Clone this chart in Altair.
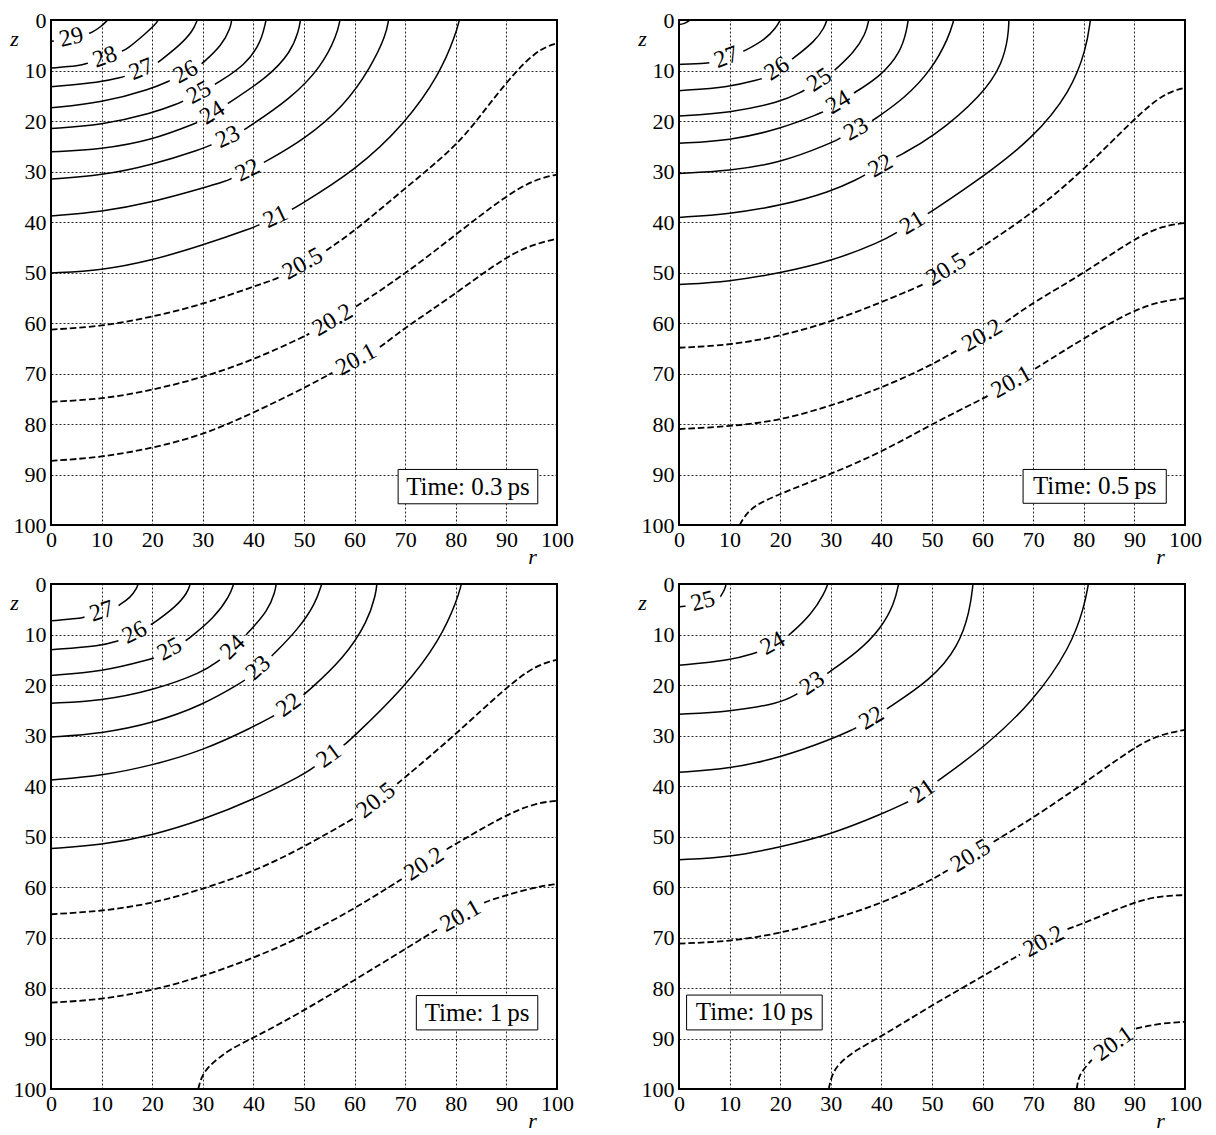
import math
import altair as alt
import pandas as pd

# ---------------- data ----------------
TICKS = [0, 10, 20, 30, 40, 50, 60, 70, 80, 90, 100]

# Panel 1 : 0.3 ps
LEVELS_03 = [29, 28, 27, 26, 25, 24, 23, 22, 21, 20.5, 20.2, 20.1]
R_03 = [
    [0, 1.2, 8, 9.8, 11, 11.2],
    [0, 5.7, 15, 18.9, 20.7, 21.2],
    [0, 9.7, 14.5, 21, 25.5, 28.1, 28.9],
    [0, 10, 20, 23.5, 30, 33.8, 35.5, 35.7],
    [0, 10, 20, 25.5, 33, 38.4, 41.5, 42.5],
    [0, 10, 20, 28.9, 35.3, 42.9, 47.4, 49, 49.3],
    [0, 10, 20, 30, 38.4, 47.4, 53.5, 56.5, 57.1],
    [0, 10, 20, 30, 34.6, 42.1, 50, 58, 63.3, 66.2, 66.7],
    [0, 10, 20, 30, 40, 48.2, 60.3, 70, 76.9, 80, 80.7],
    [0, 10, 20, 30, 40, 44.4, 53.9, 60, 70, 80, 85, 90, 95.8, 100],
    [0, 10, 20, 30, 40, 50, 59.9, 70, 80, 90, 95.8, 100],
    [0, 10, 20, 30, 40, 50, 65.6, 70, 80, 90, 95.8, 100],
]
Z_03 = [
    [4.2, 4.1, 2.5, 1.4, 0.2, 0],
    [9.5, 9.1, 5.8, 2.5, 0.8, 0],
    [13.2, 12.4, 11.2, 8.5, 5.0, 2.1, 0],
    [17.4, 16.4, 13.6, 12, 8.5, 5.0, 1.5, 0],
    [21.5, 20.8, 18.5, 16.4, 12.4, 8.9, 4.5, 0],
    [26.1, 25.6, 23.8, 20.3, 16.3, 11.3, 6.4, 2, 0],
    [31.5, 30.8, 28.7, 25.5, 21.6, 15.6, 9.2, 3, 0],
    [38.8, 38, 36.1, 33.3, 31.9, 28.2, 23.7, 17, 9.2, 3, 0],
    [50.1, 49.6, 47.6, 44.6, 41.1, 37.2, 29.7, 20.5, 10.6, 2.8, 0],
    [61.3, 60.7, 58.8, 56.3, 52.8, 51.3, 46, 41.8, 33.3, 25.1, 18.8, 12.3, 6, 4.6],
    [75.6, 75.1, 73.3, 70.8, 67.3, 62.7, 57, 50.3, 42.5, 34.7, 31.5, 30.6],
    [87.3, 86.6, 84.8, 82.2, 77.8, 72.9, 64.4, 60.9, 54.2, 46.7, 44.3, 43.3],
]
LAB_R_03 = [4.1, 10.7, 17.9, 26.6, 29.3, 31.9, 35, 38.7, 44.4, 49.7, 55.7, 60.7]
LAB_Z_03 = [3.7, 7.5, 9.9, 10.3, 14.5, 18.4, 23.3, 29.4, 39, 48.2, 59.5, 68]

# Panel 2 : 0.5 ps
LEVELS_05 = [28, 27, 26, 25, 24, 23, 22, 21, 20.5, 20.2, 20.1]
R_05 = [
    [0, 1.2, 2.2],
    [0, 3.5, 6.7, 13.2, 17, 19.3, 20],
    [0, 10, 16.2, 22.3, 26.9, 28.8, 29.2],
    [0, 10, 20, 24.3, 30.8, 34.6, 36.9, 37.5],
    [0, 10, 20, 28.1, 35, 40, 43.8, 45, 45.3],
    [0, 10, 20, 30, 38.4, 44.5, 49.9, 53.3, 54.3],
    [0, 10, 20, 30, 35.3, 43.4, 50, 60, 64, 65.1, 65.2],
    [0, 10, 20, 30, 40, 49.9, 60, 70, 77.4, 80.5, 81.3],
    [0, 10, 20, 30, 40, 47.6, 58.3, 70, 80, 90, 95.8, 100],
    [0, 10, 20, 30, 40, 50, 65.2, 70, 80, 90, 95.8, 100],
    [12, 12.8, 14.7, 20, 30, 40, 50, 60, 70.5, 80, 90, 95.8, 100],
]
Z_05 = [
    [0.9, 0.7, 0],
    [8.8, 8.7, 8.4, 6.0, 3.9, 1.4, 0],
    [14, 13.3, 11.7, 7.8, 4.2, 1.4, 0],
    [19, 18.4, 16.3, 14.2, 9.9, 6.4, 2.8, 0],
    [24.4, 23.9, 21.6, 18.4, 14.2, 11, 6.4, 2, 0],
    [30.4, 29.9, 28.3, 24.4, 19.8, 15.6, 9.9, 3.5, 0],
    [39.1, 38.4, 36.8, 34, 31.5, 26.9, 23.4, 14.9, 8.5, 3, 0],
    [52.4, 51.8, 50.1, 47.8, 43.9, 37.9, 31.1, 23.4, 14.2, 5.7, 0],
    [64.9, 64.4, 62.6, 59.8, 55.9, 52.7, 46, 38.2, 29.7, 19.5, 14.5, 13.4],
    [81, 80.5, 79.3, 76.4, 72.9, 68.3, 59.4, 55.9, 50.2, 43.2, 40.7, 40.2],
    [100, 98.5, 96.2, 93.8, 89.9, 85.6, 80, 75, 69, 63, 57.3, 55.6, 55.1],
]
LAB_R_05 = [None, 9.3, 19.3, 27.7, 31.5, 35, 39.9, 46, 52.9, 60.2, 66]
LAB_Z_05 = [None, 7.2, 9.6, 11.8, 16.3, 21.6, 29, 40, 49.5, 63, 72.2]

# Panel 3 : 1 ps
LEVELS_1 = [27, 26, 25, 24, 23, 22, 21, 20.5, 20.2, 20.1]
R_1 = [
    [0, 5.8, 13, 15.7, 17, 17.2],
    [0, 10, 13.4, 20.2, 24.7, 27, 27.5],
    [0, 10, 20, 27, 32.3, 35.3, 36.1],
    [0, 10, 20, 30, 33.4, 39, 42.9, 44.3, 44.5],
    [0, 10, 20, 30, 38, 44, 48.9, 52.3, 53.5],
    [0, 10, 20, 30, 40, 44, 50.5, 58, 62.6, 64.2, 64.4],
    [0, 10, 20, 30, 40, 50, 58.8, 70, 76.9, 80.3, 81.1],
    [0, 10, 20, 30, 40, 50, 60, 69, 80, 90, 95.8, 100],
    [0, 10, 20, 30, 40, 50, 60, 68.6, 78.4, 90, 95.8, 100],
    [29.1, 29.6, 30.8, 35.3, 40, 50, 60, 70, 75.8, 86, 90, 95.8, 100],
]
Z_1 = [
    [7.3, 6.8, 4.5, 2.7, 0.8, 0],
    [13, 12.3, 11.2, 7.8, 4.5, 1.7, 0],
    [18.1, 17.4, 14.8, 11, 6.7, 2.4, 0],
    [23.6, 23.1, 21.1, 17.5, 15, 9.6, 5.3, 1.5, 0],
    [30.3, 29.6, 27.6, 24, 19.3, 13.9, 8.9, 3.8, 0],
    [38.8, 38, 35.9, 33, 28.3, 26.1, 21.5, 14.6, 7.4, 2, 0],
    [52.4, 51.7, 49.8, 46.7, 42.7, 37.7, 31.2, 20.4, 11, 3.1, 0],
    [65.4, 64.8, 63.3, 60.4, 57, 52.1, 46.3, 39.1, 29.8, 20.4, 16.1, 15],
    [82.9, 82.3, 80.5, 77.7, 74.1, 69.7, 64.3, 58.9, 52.4, 45.6, 43.4, 42.9],
    [100, 98, 95.7, 92.1, 89.9, 84.5, 78.4, 72.3, 68.7, 62.9, 61.6, 60, 59.4],
]
LAB_R_1 = [10, 16.4, 23.6, 35.9, 41.1, 47, 55, 64.4, 73.9, 80.7]
LAB_Z_1 = [5.4, 9.4, 13.2, 12.5, 16.8, 24, 34.1, 43.1, 55.7, 65.3]

# Panel 4 : 10 ps
LEVELS_10 = [25, 24, 23, 22, 21, 20.5, 20.2, 20.1]
R_10 = [
    [0, 1.2, 8.2, 9.1, 9.3],
    [0, 10, 15.5, 22, 26.2, 28.8, 29.4],
    [0, 10, 20, 23.1, 29.6, 35.3, 39.9, 42.6, 43.4],
    [0, 10, 20, 30, 34.6, 41.1, 49.9, 55.2, 57.5, 58.1],
    [0, 10, 20, 30, 40, 45.3, 51.4, 60, 70, 77.4, 80.1, 80.9],
    [0, 10, 20, 30, 40, 50, 62.9, 70, 80, 90, 95, 100],
    [29.6, 30.1, 31.5, 35.3, 40, 50, 60, 67.5, 76.3, 80, 90, 95, 100],
    [78.6, 78.9, 79.6, 81.6, 90, 95, 100],
]
Z_10 = [
    [4.5, 4.4, 2.5, 1, 0],
    [16.1, 15.2, 13.5, 9.9, 6, 1.7, 0],
    [25.8, 25.3, 23.6, 21.9, 17.5, 13.5, 8.9, 3.8, 0],
    [37.3, 36.6, 34.4, 30.8, 28.7, 24.7, 18.9, 12.5, 5.3, 0],
    [54.6, 54.1, 52.1, 49.6, 45.6, 43.1, 38.8, 32.6, 23.3, 12.5, 4.5, 0],
    [71.2, 70.8, 69.2, 66.5, 63.3, 58.6, 50.6, 46.3, 39.5, 32.3, 29.8, 28.9],
    [100, 97.5, 94.9, 92.1, 89.6, 83.4, 77.7, 73.3, 68.5, 67.2, 62.9, 61.8, 61.6],
    [100, 98, 96.5, 94.2, 88.1, 87, 86.7],
]
LAB_R_10 = [4.7, 18.5, 26.2, 38, 48, 57.9, 72, 85.8]
LAB_Z_10 = [3.3, 11.7, 19.5, 26.5, 40.8, 54.3, 70.7, 90.9]

TIME_TEXT = ["Time: 0.3\u2009ps", "Time: 0.5\u2009ps", "Time: 1\u2009ps", "Time: 10\u2009ps"]

# ---------------- layout / style ----------------
W, H = 506, 505
FONT = "Liberation Serif"
FS = 22
LABEL_FS = 24
BOX_FS = 25
BOXES = [  # r1, r2, z1, z2 of the annotation boxes
    (68.6, 96.2, 89.0, 95.8),
    (68.0, 96.3, 89.0, 95.7),
    (72.2, 96.2, 81.5, 88.3),
    (1.5, 28.3, 81.4, 88.3),
]


def text_width(t, fs):
    return sum(0.25 * fs if ch == "." else 0.5 * fs for ch in t)


def split_contour(rs, zs, lr, lz, text):
    pts = [(r * W / 100.0, z * H / 100.0) for r, z in zip(rs, zs)]
    if lr is None:
        return [pts], None
    lab = (lr * W / 100.0, lz * H / 100.0)
    cum = [0.0]
    for i in range(1, len(pts)):
        cum.append(cum[-1] + math.dist(pts[i - 1], pts[i]))
    best_d, s = 1e18, 0.0
    for i in range(len(pts) - 1):
        (x0, y0), (x1, y1) = pts[i], pts[i + 1]
        dx, dy = x1 - x0, y1 - y0
        L2 = dx * dx + dy * dy
        t = 0.0 if L2 == 0 else max(0.0, min(1.0, ((lab[0] - x0) * dx + (lab[1] - y0) * dy) / L2))
        px, py = x0 + t * dx, y0 + t * dy
        d = (px - lab[0]) ** 2 + (py - lab[1]) ** 2
        if d < best_d:
            best_d, s = d, cum[i] + t * math.sqrt(L2)

    def at(sv):
        sv = max(0.0, min(cum[-1], sv))
        for i in range(len(pts) - 1):
            if cum[i + 1] >= sv:
                sl = cum[i + 1] - cum[i]
                t = (sv - cum[i]) / sl if sl > 0 else 0.0
                return (pts[i][0] + t * (pts[i + 1][0] - pts[i][0]),
                        pts[i][1] + t * (pts[i + 1][1] - pts[i][1]))
        return pts[-1]

    half = text_width(text, LABEL_FS) / 2 + 6
    s0, s1 = s - half, s + half
    seg_a = [p for p, c in zip(pts, cum) if c < s0] + ([at(s0)] if s0 > 0 else [])
    seg_b = ([at(s1)] if s1 < cum[-1] else []) + [p for p, c in zip(pts, cum) if c > s1]
    a0, a1 = at(s - half * 0.8), at(s + half * 0.8)
    ang = math.degrees(math.atan2(a1[1] - a0[1], a1[0] - a0[0]))
    if ang > 90:
        ang -= 180
    if ang < -90:
        ang += 180
    c = at(s)
    label = {"r": c[0] * 100 / W, "z": c[1] * 100 / H, "t": text, "a": ang % 360}
    return [seg_a, seg_b], label


def panel(levels, R, Z, LR, LZ, box, ttext):
    line_rows, label_rows = [], []
    seg_id = 0
    for li, lev in enumerate(levels):
        text = f"{lev:g}"
        segs, lab = split_contour(R[li], Z[li], LR[li], LZ[li], text)
        style = "solid" if lev >= 21 else "dashed"
        for seg in segs:
            for k, (px, py) in enumerate(seg):
                line_rows.append({"r": px * 100 / W, "z": py * 100 / H, "seg": seg_id,
                                  "i": k, "style": style})
            seg_id += 1
        if lab:
            label_rows.append(lab)
    df_lines = pd.DataFrame(line_rows)
    df_labels = pd.DataFrame(label_rows)
    df_box = pd.DataFrame([{"r": box[0], "r2": box[1], "z": box[2], "z2": box[3],
                            "rc": (box[0] + box[1]) / 2, "zc": (box[2] + box[3]) / 2, "t": ttext}])

    xs = alt.Scale(domain=[0, 100], nice=False, zero=False)
    ys = alt.Scale(domain=[0, 100], nice=False, zero=False, reverse=True)
    xaxis = alt.Axis(values=TICKS, title="r", titleX=481, titleY=38, titleAngle=0,
                     titleAlign="center", titleBaseline="alphabetic", labelPadding=4,
                     labelFlush=False, labelOverlap=False, ticks=False, domain=False,
                     grid=True, format="d")
    yaxis = alt.Axis(values=TICKS, title="z", titleX=-37, titleY=25, titleAngle=0,
                     titleAlign="center", titleBaseline="alphabetic", labelPadding=5,
                     labelFlush=False, labelOverlap=False, ticks=False, domain=False,
                     grid=True, format="d")

    solid = alt.Chart(df_lines).transform_filter(alt.datum.style == "solid").mark_line(
        interpolate="basis", color="black", strokeWidth=1.5, clip=True
    ).encode(
        x=alt.X("r:Q", scale=xs, axis=xaxis),
        y=alt.Y("z:Q", scale=ys, axis=yaxis),
        detail="seg:N",
        order="i:Q",
    )
    dashed = alt.Chart(df_lines).transform_filter(alt.datum.style == "dashed").mark_line(
        interpolate="basis", color="black", strokeWidth=1.8, strokeDash=[6.5, 3], clip=True
    ).encode(
        x=alt.X("r:Q"), y=alt.Y("z:Q"), detail="seg:N", order="i:Q",
    )
    labels = alt.Chart(df_labels).mark_text(
        font=FONT, fontSize=LABEL_FS, color="black", align="center", baseline="middle"
    ).encode(
        x=alt.X("r:Q"), y=alt.Y("z:Q"), text="t:N", angle=alt.Angle("a:Q", scale=None)
    )
    rect = alt.Chart(df_box).mark_rect(fill="white", stroke="black", strokeWidth=1).encode(
        x=alt.X("r:Q"), x2="r2:Q", y=alt.Y("z:Q"), y2="z2:Q"
    )
    rtext = alt.Chart(df_box).mark_text(
        font=FONT, fontSize=BOX_FS, color="black", align="center", baseline="middle"
    ).encode(x=alt.X("rc:Q"), y=alt.Y("zc:Q"), text="t:N")
    return alt.layer(solid, dashed, labels, rect, rtext).properties(width=W, height=H)


p1 = panel(LEVELS_03, R_03, Z_03, LAB_R_03, LAB_Z_03, BOXES[0], TIME_TEXT[0])
p2 = panel(LEVELS_05, R_05, Z_05, LAB_R_05, LAB_Z_05, BOXES[1], TIME_TEXT[1])
p3 = panel(LEVELS_1, R_1, Z_1, LAB_R_1, LAB_Z_1, BOXES[2], TIME_TEXT[2])
p4 = panel(LEVELS_10, R_10, Z_10, LAB_R_10, LAB_Z_10, BOXES[3], TIME_TEXT[3])

chart = alt.vconcat(
    alt.hconcat(p1, p2, spacing=61),
    alt.hconcat(p3, p4, spacing=61),
    spacing=4,
).properties(
    padding={"left": 0, "top": 0, "right": 0, "bottom": 0}
).configure_view(
    stroke="black", strokeWidth=2
).configure_axis(
    gridColor="black", gridDash=[2, 2], gridWidth=1, gridOpacity=0.85,
    labelFont=FONT, labelFontSize=FS, labelColor="black",
    titleFont=FONT, titleFontSize=FS, titleFontStyle="italic", titleFontWeight="normal",
    titleColor="black",
)

chart.save("out.html", embed_options={"renderer": "svg", "actions": False})
